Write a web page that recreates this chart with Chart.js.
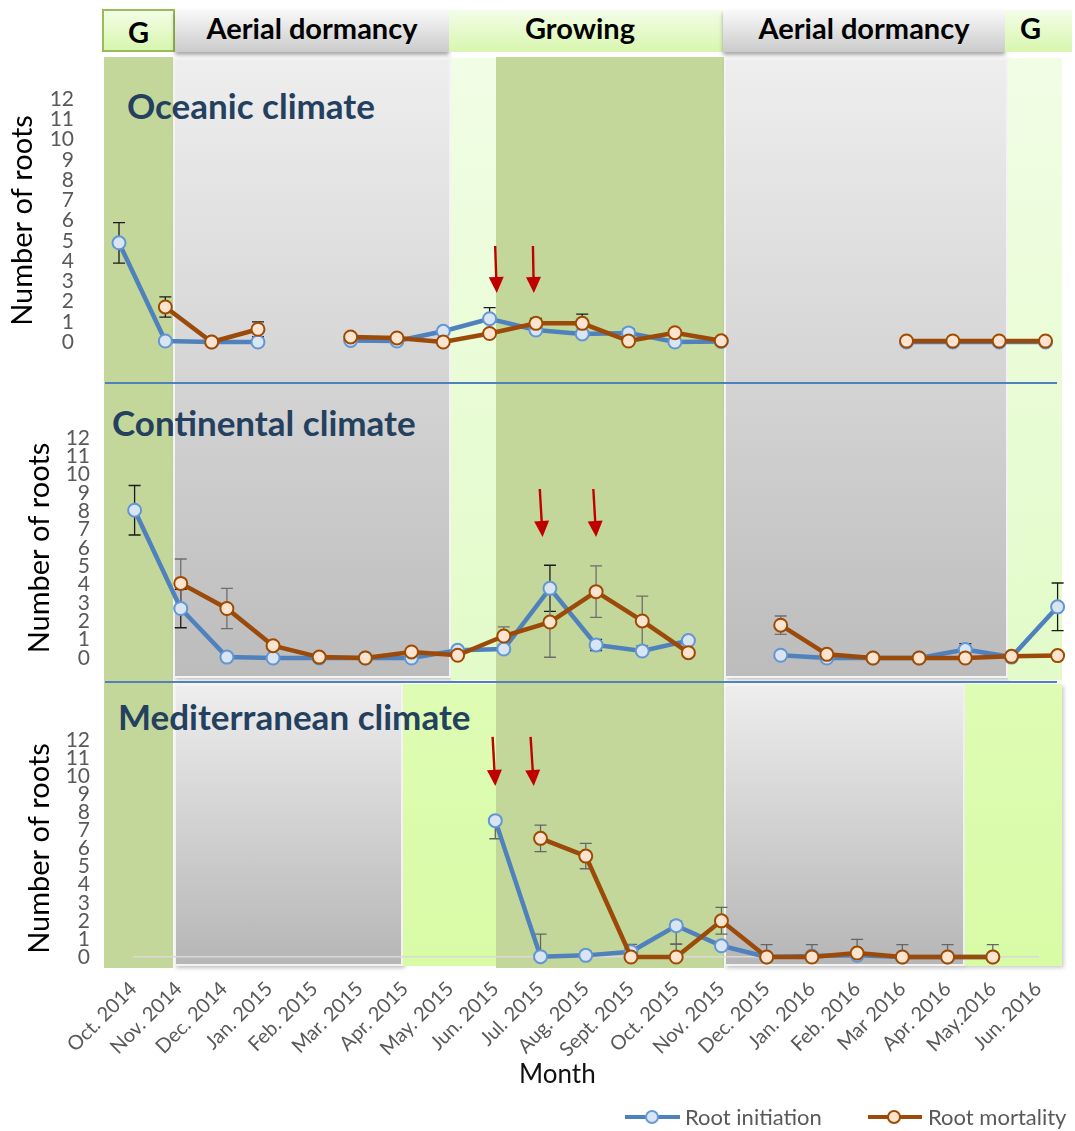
<!DOCTYPE html>
<html>
<head>
<meta charset="utf-8">
<script src="https://cdn.jsdelivr.net/npm/chart.js@4"></script>
<style>
  body { margin: 0; background: #fff; }
  #wrap { position: relative; width: 1075px; height: 1131px; overflow: hidden; background: #fff; font-family: Lato, sans-serif; }
  .abs { position: absolute; box-sizing: border-box; }
  .hdr { position: absolute; box-sizing: border-box; height: 42px; top: 10px; line-height: 48px; text-align: center;
         font: bold 29px Lato, sans-serif; color: #000; }
  .hdr.green { background: linear-gradient(#f3fde8, #d8f6ae); }
  .hdr.grey { background: linear-gradient(#f9f9f9, #cbcbcb); box-shadow: 0 3px 4px rgba(0,0,0,0.35); }
  .olive { position: absolute; background: #c4d79b; top: 57px; height: 911px; }
  .greyBox { position: absolute; box-sizing: border-box; border: 2px solid #f3f3f3; box-shadow: 2px 2px 4px rgba(0,0,0,0.25); }
  .panelTitle { position: absolute; font: bold 35px Lato, sans-serif; line-height: 35px; color: #24405f; white-space: nowrap; }
  .sep { position: absolute; left: 105px; width: 952px; height: 2px; background: #4f81bd; }
  canvas { position: absolute; left: 0; }
  #month { position: absolute; left: 519px; top: 1060px; font: 26px Lato, sans-serif; line-height: 26px; color: #111; }
  .legText { position: absolute; top: 1106px; font: 22px Lato, sans-serif; line-height: 22px; color: #595959; white-space: nowrap; }
  .legSym { position: absolute; top: 1108px; }
</style>
</head>
<body>
<div id="wrap">
  <!-- season header -->
  <div class="hdr green" style="left:102px;top:9px;width:73px;height:43px;border:2px solid #9bbb59;line-height:42px;">G</div>
  <div class="hdr grey" style="left:175px;width:274px;">Aerial dormancy</div>
  <div class="hdr green" style="left:449px;width:274px;padding-right:12px;">Growing</div>
  <div class="hdr grey" style="left:723px;width:282px;">Aerial dormancy</div>
  <div class="hdr green" style="left:1005px;width:67px;padding-right:16px;">G</div>

  <!-- season bands behind the panels -->
  <div class="olive" style="left:104px;width:69px;"></div>
  <div class="olive" style="left:496px;width:228px;"></div>
  <div class="greyBox" style="left:173px;top:58px;width:278px;height:620px;background:linear-gradient(#eeeeee,#bcbcbc);"></div>
  <div class="abs" style="left:451px;top:58px;width:45px;height:622px;background:linear-gradient(#f1fde5,#e2fbc8);"></div>
  <div class="greyBox" style="left:724px;top:58px;width:284px;height:620px;background:linear-gradient(#eeeeee,#bcbcbc);"></div>
  <div class="abs" style="left:1008px;top:58px;width:54px;height:622px;background:linear-gradient(#f1fde5,#e2fbc8);"></div>
  <div class="greyBox" style="left:174px;top:684px;width:229px;height:282px;background:linear-gradient(#ededed,#b6b6b6);"></div>
  <div class="abs" style="left:403px;top:684px;width:93px;height:282px;background:linear-gradient(#defcb3,#d8fba6);"></div>
  <div class="greyBox" style="left:724px;top:684px;width:241px;height:282px;background:linear-gradient(#ededed,#b6b6b6);"></div>
  <div class="abs" style="left:965px;top:684px;width:97px;height:282px;background:linear-gradient(#defcb3,#d8fba6);box-shadow:2px 2px 4px rgba(0,0,0,0.2);"></div>

  <div class="sep" style="top:382px;"></div>
  <div class="sep" style="top:681px;"></div>

  <div class="panelTitle" style="left:127px;top:88px;">Oceanic climate</div>
  <div class="panelTitle" style="left:112px;top:405px;">Continental climate</div>
  <div class="panelTitle" style="left:118px;top:699px;">Mediterranean climate</div>

  <canvas id="oceanic" width="1075" height="383" style="top:0px;"></canvas>
  <canvas id="continental" width="1075" height="300" style="top:383px;"></canvas>
  <canvas id="mediterranean" width="1075" height="448" style="top:683px;"></canvas>

  <div id="month">Month</div>

  <svg class="legSym" style="left:620px;" width="66" height="18">
    <line x1="5" y1="9" x2="60" y2="9" stroke="#4f81bd" stroke-width="4"/>
    <circle cx="32" cy="9" r="6" fill="#dae5f4" stroke="#6a9ad6" stroke-width="2"/>
  </svg>
  <div class="legText" style="left:685px;">Root initiation</div>
  <svg class="legSym" style="left:863px;" width="66" height="18">
    <line x1="5" y1="9" x2="59" y2="9" stroke="#9c4a0a" stroke-width="4"/>
    <circle cx="31" cy="9" r="6" fill="#fde4d0" stroke="#a04a00" stroke-width="2"/>
  </svg>
  <div class="legText" style="left:928px;">Root mortality</div>
</div>

<script>
// Months sampled (x categories shared by all three panels)
const months = ["Oct. 2014", "Nov. 2014", "Dec. 2014", "Jan. 2015", "Feb. 2015", "Mar. 2015", "Apr. 2015",
  "May. 2015", "Jun. 2015", "Jul. 2015", "Aug. 2015", "Sept. 2015", "Oct. 2015", "Nov. 2015", "Dec. 2015",
  "Jan. 2016", "Feb. 2016", "Mar 2016", "Apr. 2016", "May.2016", "Jun. 2016"];

// Oceanic climate: mean number of roots and error (number, or [plus, minus])
const oceanicInit = [4.9, 0.05, 0, 0, null, 0.08, 0.05, 0.53, 1.15, 0.59, 0.4, 0.45, 0, 0.03, null, null, null, 0, 0, 0, 0];
const oceanicInitErr = [1.0, null, null, null, null, null, null, null, 0.55, null, null, 0.2, null, null, null, null, null, null, null, null, null];
const oceanicMort = [null, 1.73, 0, 0.63, null, 0.25, 0.2, 0, 0.42, 0.92, 0.92, 0.05, 0.46, 0.06, null, null, null, 0.05, 0.05, 0.05, 0.05];
const oceanicMortErr = [null, 0.5, null, 0.36, null, null, null, null, null, 0.25, 0.46, null, null, null, null, null, null, null, null, null, null];

// Continental climate
const continentalInit = [8.06, 2.7, 0.05, 0, 0, 0, 0, 0.42, 0.49, 3.8, 0.71, 0.38, 0.95, null, 0.15, 0, 0, 0, 0.46, 0.05, 2.79];
const continentalInitErr = [1.35, 1.05, null, null, null, null, null, null, null, 1.26, 0.31, null, null, null, null, null, null, null, 0.32, null, 1.3];
const continentalMort = [null, 4.07, 2.7, 0.67, 0.05, 0, 0.33, 0.15, 1.2, 1.96, 3.62, 2.02, 0.29, null, 1.79, 0.2, 0, 0, 0, 0.09, 0.13];
const continentalMortErr = [null, 1.33, 1.1, null, null, null, null, null, 0.5, 1.92, 1.4, 1.35, null, null, 0.5, null, null, null, null, null, null];

// Mediterranean climate
const mediterraneanInit = [null, null, null, null, null, null, null, null, 7.54, 0.02, 0.09, 0.29, 1.73, 0.62, 0, 0.05, 0.1, 0, 0, 0, null];
const mediterraneanInitErr = [null, null, null, null, null, null, null, null, [0.2, 1.0], 1.24, 0.24, null, [0.25, 1.0], null, null, null, null, null, null, null, null];
const mediterraneanMort = [null, null, null, null, null, null, null, null, null, 6.56, 5.58, 0, 0, 2.0, 0, 0, 0.22, 0, 0, 0, null];
const mediterraneanMortErr = [null, null, null, null, null, null, null, null, null, 0.73, 0.7, 0.7, 0.7, 0.74, 0.68, 0.68, 0.76, 0.68, 0.68, 0.68, null];

// Red arrows: [month index at tail, value at tail, month index at tip, value at tip]
const oceanicArrows = [[8.12, 4.74, 8.155, 2.42], [8.935, 4.74, 8.955, 2.42]];
const continentalArrows = [[8.78, 9.22, 8.84, 6.6], [9.94, 9.22, 10.0, 6.6]];
const mediterraneanArrows = [[7.94, 12.17, 8.0, 9.46], [8.78, 12.17, 8.85, 9.46]];

// Draws vertical error bars with caps under the markers
const errorBars = {
  id: 'errorBars',
  beforeDatasetsDraw(chart) {
    const { ctx, chartArea, scales: { x, y } } = chart;
    ctx.save();
    ctx.beginPath();
    ctx.rect(0, 0, chart.width, chartArea.bottom + 0.5);
    ctx.clip();
    chart.data.datasets.forEach(ds => {
      if (!ds.errors) return;
      ctx.strokeStyle = ds.errorColor;
      ctx.lineWidth = 1.3;
      ds.data.forEach((v, i) => {
        const e = ds.errors[i];
        if (v == null || e == null) return;
        const up = Array.isArray(e) ? e[0] : e;
        const dn = Array.isArray(e) ? e[1] : e;
        const px = x.getPixelForValue(i);
        const yt = y.getPixelForValue(v + up);
        const yb = y.getPixelForValue(v - dn);
        ctx.beginPath();
        ctx.moveTo(px, yt); ctx.lineTo(px, yb);
        ctx.moveTo(px - 6, yt); ctx.lineTo(px + 6, yt);
        ctx.moveTo(px - 6, yb); ctx.lineTo(px + 6, yb);
        ctx.stroke();
      });
    });
    ctx.restore();
  }
};

// Red arrows placed through the chart scales
function arrowPlugin(items) {
  return {
    id: 'arrows',
    afterDatasetsDraw(chart) {
      const { ctx, scales: { x, y } } = chart;
      ctx.save();
      ctx.strokeStyle = '#c00000';
      ctx.fillStyle = '#c00000';
      ctx.lineWidth = 2.4;
      items.forEach(([i0, v0, i1, v1]) => {
        const x0 = x.getPixelForValue(i0), y0 = y.getPixelForValue(v0);
        const x1 = x.getPixelForValue(i1), y1 = y.getPixelForValue(v1);
        const len = Math.hypot(x1 - x0, y1 - y0);
        const dx = (x1 - x0) / len, dy = (y1 - y0) / len;
        const head = 16, half = 7.5;
        const bx = x1 - dx * head, by = y1 - dy * head;
        ctx.beginPath();
        ctx.moveTo(x0, y0); ctx.lineTo(bx + dx, by + dy);
        ctx.stroke();
        ctx.beginPath();
        ctx.moveTo(x1, y1);
        ctx.lineTo(bx - dy * half, by + dx * half);
        ctx.lineTo(bx + dy * half, by - dx * half);
        ctx.closePath();
        ctx.fill();
      });
      ctx.restore();
    }
  };
}

function makePanel(id, p) {
  const canvasTop = p.canvasTop, canvasH = p.canvasHeight;
  return new Chart(document.getElementById(id), {
    type: 'line',
    data: {
      labels: months,
      datasets: [
        {
          label: 'Root initiation', data: p.init, errors: p.initErr, errorColor: p.initErrColor,
          borderColor: '#4f81bd', borderWidth: 4.5, pointRadius: 6.5, pointBorderWidth: 2,
          pointBackgroundColor: '#dae5f4', pointBorderColor: '#6296d4',
          spanGaps: false, clip: false, order: 1, tension: 0
        },
        {
          label: 'Root mortality', data: p.mort, errors: p.mortErr, errorColor: p.mortErrColor,
          borderColor: '#9c4a0a', borderWidth: 4.5, pointRadius: 6.5, pointBorderWidth: 2,
          pointBackgroundColor: '#fde4d0', pointBorderColor: '#a04a00',
          spanGaps: false, clip: false, order: 0, tension: 0
        }
      ]
    },
    options: {
      responsive: false,
      animation: false,
      devicePixelRatio: 1,
      events: [],
      layout: {
        padding: {
          left: 0,
          right: 1075 - p.right,
          top: p.plotTop - canvasTop,
          bottom: p.showX ? 0 : canvasTop + canvasH - p.plotBottom
        }
      },
      plugins: { legend: { display: false }, tooltip: { enabled: false } },
      scales: {
        x: {
          type: 'category',
          offset: false,
          display: p.showX,
          grid: { display: false, drawTicks: false },
          border: { display: true, color: '#d9d9d9', width: 1.5 },
          ticks: {
            autoSkip: false, minRotation: 45, maxRotation: 45, padding: 20,
            color: '#595959', font: { family: 'Lato', size: 20 }
          },
          afterFit(s) { if (p.showX) s.height = canvasTop + canvasH - p.plotBottom; }
        },
        y: {
          min: 0, max: 12,
          // invisible tick marks keep the labels away from the plotted months
          grid: { display: true, drawOnChartArea: false, drawTicks: true, tickLength: p.tickGap, color: 'rgba(0,0,0,0)' },
          border: { display: false },
          ticks: {
            stepSize: 1, maxTicksLimit: 13, autoSkip: false, padding: 0,
            color: '#595959', font: { family: 'Lato', size: 21, lineHeight: 1 }
          },
          title: {
            display: true, text: 'Number of roots', color: '#000',
            font: { family: 'Lato', size: 29 }, padding: { top: p.titlePad, bottom: 0 }
          },
          afterFit(s) { s.width = p.left; }
        }
      }
    },
    plugins: [errorBars, arrowPlugin(p.arrows)]
  });
}

makePanel('oceanic', {
  init: oceanicInit, initErr: oceanicInitErr, mort: oceanicMort, mortErr: oceanicMortErr,
  initErrColor: '#1a1a1a', mortErrColor: '#1a1a1a', arrows: oceanicArrows,
  canvasTop: 0, canvasHeight: 383, left: 119, right: 1045.5, plotTop: 99, plotBottom: 342,
  tickGap: 45, titlePad: 5, showX: false
});
makePanel('continental', {
  init: continentalInit, initErr: continentalInitErr, mort: continentalMort, mortErr: continentalMortErr,
  initErrColor: '#1a1a1a', mortErrColor: '#6e6e6e', arrows: continentalArrows,
  canvasTop: 383, canvasHeight: 300, left: 134.6, right: 1057.6, plotTop: 438, plotBottom: 658,
  tickGap: 44.6, titlePad: 22, showX: false
});
makePanel('mediterranean', {
  init: mediterraneanInit, initErr: mediterraneanInitErr, mort: mediterraneanMort, mortErr: mediterraneanMortErr,
  initErrColor: '#666666', mortErrColor: '#666666', arrows: mediterraneanArrows,
  canvasTop: 683, canvasHeight: 448, left: 133.5, right: 1045.5, plotTop: 740, plotBottom: 957,
  tickGap: 43.5, titlePad: 22, showX: true
});
</script>
</body>
</html>
